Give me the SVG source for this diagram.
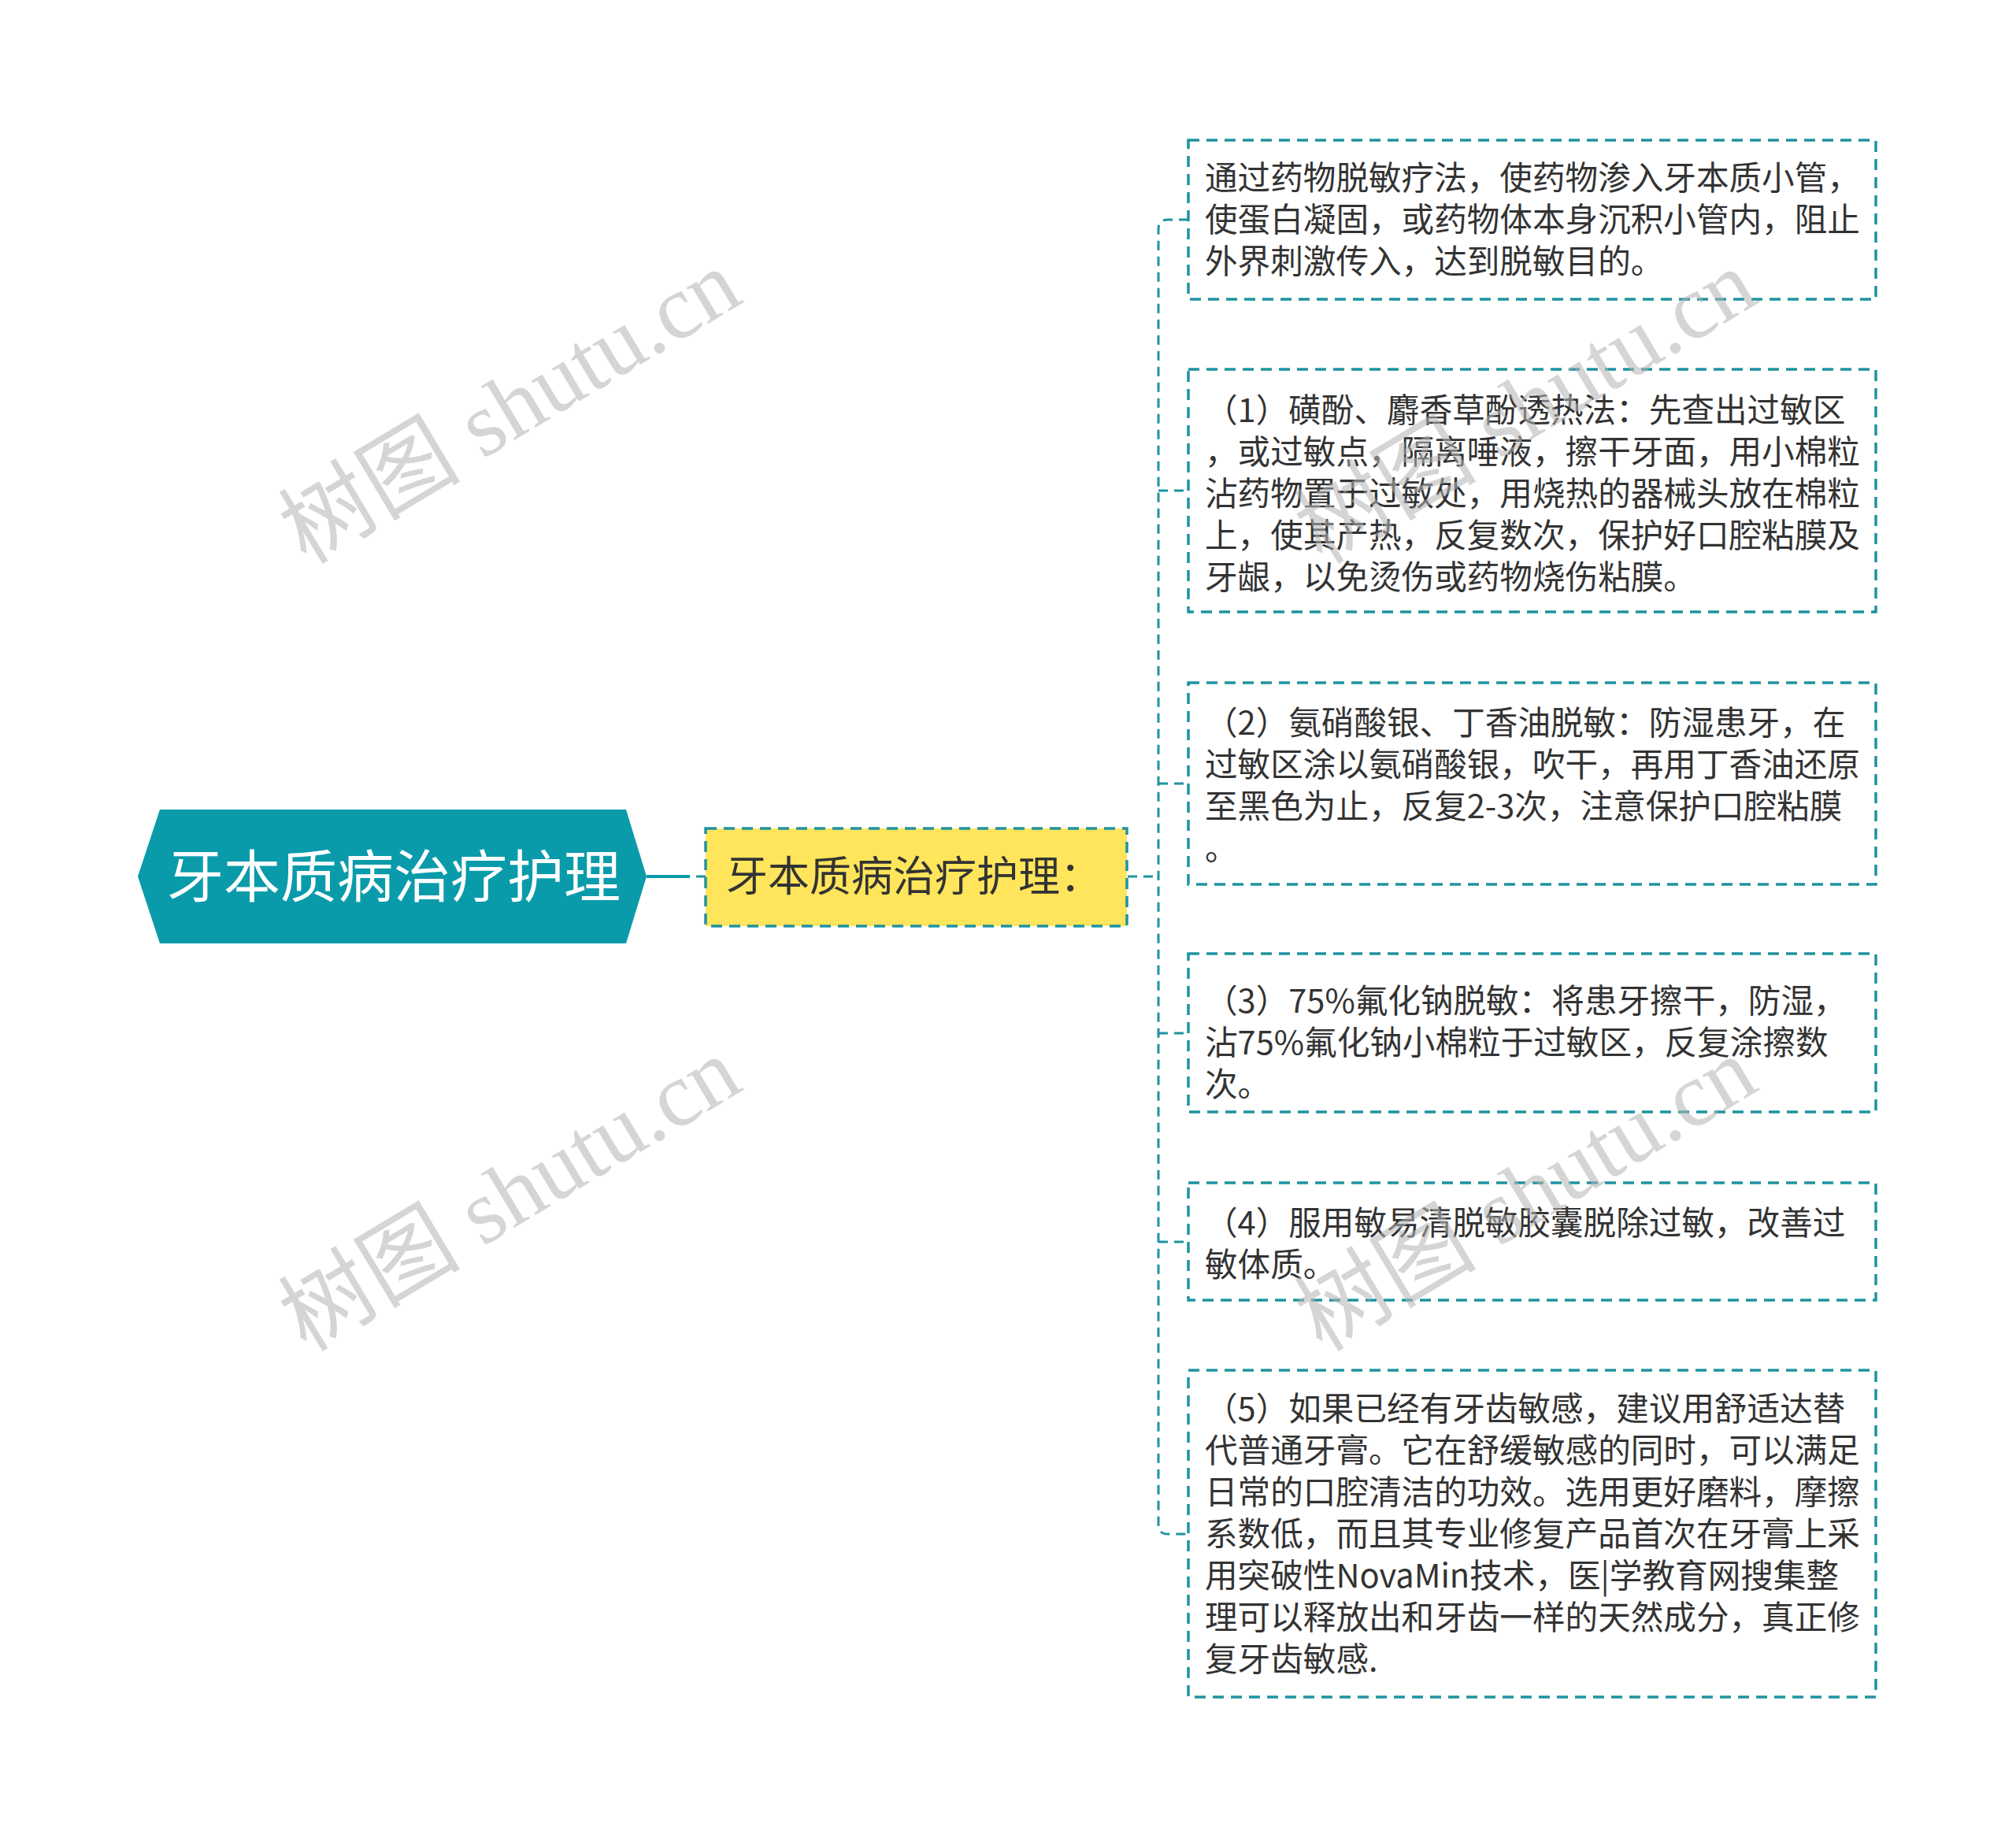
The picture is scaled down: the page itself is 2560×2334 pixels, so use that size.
<svg xmlns="http://www.w3.org/2000/svg" width="2560" height="2334" viewBox="0 0 2560 2334">
<style>
.box{fill:#ffffff;stroke:#1f93a0;stroke-width:3.5;stroke-dasharray:14 9}
.conn{fill:none;stroke:#1f93a0;stroke-width:3;stroke-dasharray:12 8}
.t{font-family:"Noto Sans CJK SC","Microsoft YaHei",sans-serif;font-size:41.6px;fill:#333333}
.wm{font-family:"Liberation Serif","Noto Sans CJK SC",serif;font-size:116px;fill:#b4b4b4;opacity:0.55}
</style>
<rect x="0" y="0" width="2560" height="2334" fill="#ffffff"/>
<g id="connectors">
<line x1="821" y1="1113" x2="876" y2="1113" stroke="#0a9bab" stroke-width="4"/>
<line x1="884" y1="1113" x2="896" y2="1113" stroke="#1f93a0" stroke-width="3"/>
<line class="conn" x1="1432" y1="1113" x2="1471" y2="1113"/>
<path class="conn" d="M1509,279 H1483 Q1471,279 1471,291 V1936 Q1471,1948 1483,1948 H1509"/>
<line class="conn" x1="1471" y1="623" x2="1509" y2="623"/>
<line class="conn" x1="1471" y1="995" x2="1509" y2="995"/>
<line class="conn" x1="1471" y1="1312" x2="1509" y2="1312"/>
<line class="conn" x1="1471" y1="1577" x2="1509" y2="1577"/>
</g>
<g id="root">
<polygon points="175,1113 203,1028 795,1028 821,1113 795,1198 203,1198" fill="#0a9bab"/>
<text x="500" y="1139" text-anchor="middle" font-family="Noto Sans CJK SC,sans-serif" font-size="72" fill="#ffffff">牙本质病治疗护理</text>
</g>
<g id="sub">
<rect x="896" y="1052" width="535" height="124" fill="#ffe55c" stroke="#1f93a0" stroke-width="3.5" stroke-dasharray="14 9"/>
<text x="922" y="1132" font-family="Noto Sans CJK SC,sans-serif" font-size="53" fill="#333333">牙本质病治疗护理：</text>
</g>
<g id="n1">
<rect class="box" x="1509" y="178" width="873" height="202"/>
<text class="t"><tspan x="1530" y="241">通过药物脱敏疗法，使药物渗入牙本质小管，</tspan><tspan x="1530" y="294">使蛋白凝固，或药物体本身沉积小管内，阻止</tspan><tspan x="1530" y="347">外界刺激传入，达到脱敏目的。</tspan></text>
</g>
<g id="n2">
<rect class="box" x="1509" y="469" width="873" height="308"/>
<text class="t"><tspan x="1530" y="536">（1）磺酚、麝香草酚透热法：先查出过敏区</tspan><tspan x="1530" y="589">，或过敏点，隔离唾液，擦干牙面，用小棉粒</tspan><tspan x="1530" y="642">沾药物置于过敏处，用烧热的器械头放在棉粒</tspan><tspan x="1530" y="695">上，使其产热，反复数次，保护好口腔粘膜及</tspan><tspan x="1530" y="748">牙龈，以免烫伤或药物烧伤粘膜。</tspan></text>
</g>
<g id="n3">
<rect class="box" x="1509" y="867" width="873" height="256"/>
<text class="t"><tspan x="1530" y="933">（2）氨硝酸银、丁香油脱敏：防湿患牙，在</tspan><tspan x="1530" y="986">过敏区涂以氨硝酸银，吹干，再用丁香油还原</tspan><tspan x="1530" y="1039">至黑色为止，反复2-3次，注意保护口腔粘膜</tspan><tspan x="1530" y="1092">。</tspan></text>
</g>
<g id="n4">
<rect class="box" x="1509" y="1211" width="873" height="201"/>
<text class="t"><tspan x="1530" y="1286">（3）75%氟化钠脱敏：将患牙擦干，防湿，</tspan><tspan x="1530" y="1339">沾75%氟化钠小棉粒于过敏区，反复涂擦数</tspan><tspan x="1530" y="1392">次。</tspan></text>
</g>
<g id="n5">
<rect class="box" x="1509" y="1502" width="873" height="149"/>
<text class="t"><tspan x="1530" y="1568">（4）服用敏易清脱敏胶囊脱除过敏，改善过</tspan><tspan x="1530" y="1621">敏体质。</tspan></text>
</g>
<g id="n6">
<rect class="box" x="1509" y="1740" width="873" height="415"/>
<text class="t"><tspan x="1530" y="1804">（5）如果已经有牙齿敏感，建议用舒适达替</tspan><tspan x="1530" y="1857">代普通牙膏。它在舒缓敏感的同时，可以满足</tspan><tspan x="1530" y="1910">日常的口腔清洁的功效。选用更好磨料，摩擦</tspan><tspan x="1530" y="1963">系数低，而且其专业修复产品首次在牙膏上采</tspan><tspan x="1530" y="2016">用突破性NovaMin技术，医|学教育网搜集整</tspan><tspan x="1530" y="2069">理可以释放出和牙齿一样的天然成分，真正修</tspan><tspan x="1530" y="2122">复牙齿敏感.</tspan></text>
</g>
<g id="watermarks">
<text class="wm" text-anchor="middle" transform="translate(647,516) rotate(-31)" x="0" y="40">树图 shutu.cn</text>
<text class="wm" text-anchor="middle" transform="translate(647,1516) rotate(-31)" x="0" y="40">树图 shutu.cn</text>
<text class="wm" text-anchor="middle" transform="translate(1937,516) rotate(-31)" x="0" y="40">树图 shutu.cn</text>
<text class="wm" text-anchor="middle" transform="translate(1937,1516) rotate(-31)" x="0" y="40">树图 shutu.cn</text>
</g>
</svg>
